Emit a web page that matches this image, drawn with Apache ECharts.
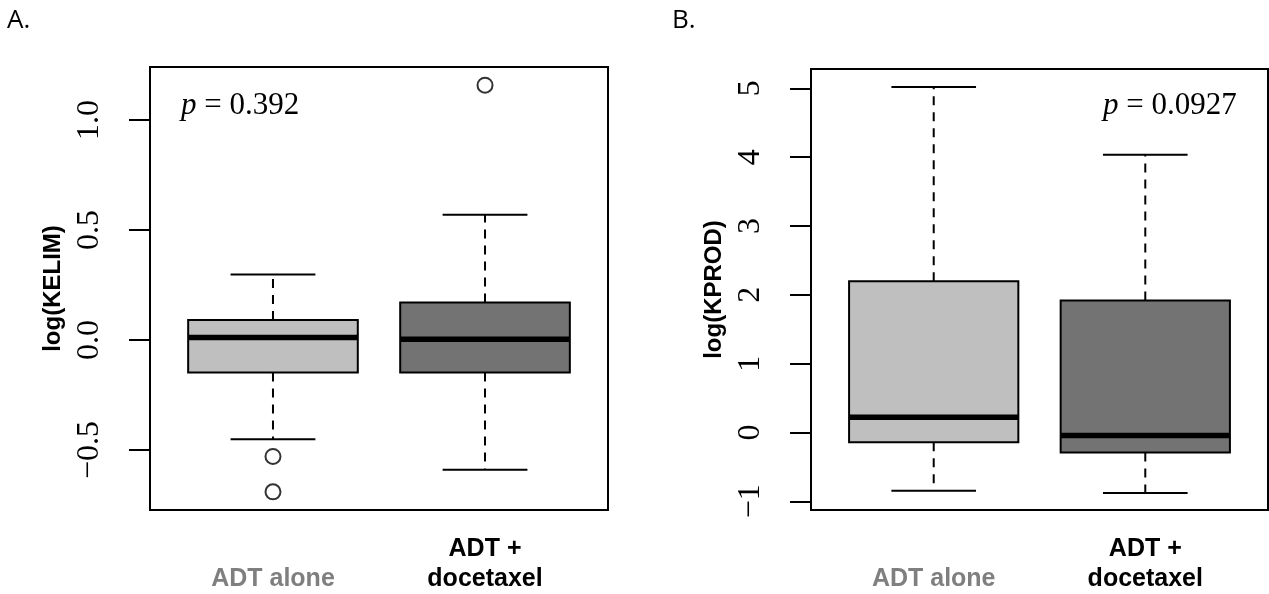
<!DOCTYPE html>
<html>
<head>
<meta charset="utf-8">
<script src="https://cdn.jsdelivr.net/npm/echarts@6/dist/echarts.min.js"></script>
<style>
html,body{margin:0;padding:0;background:#fff;}
#chart{width:1269px;height:594px;}
</style>
</head>
<body>
<div id="chart"></div>
<script>
// ---- data ----
const categories = ['ADT alone', 'ADT +\ndocetaxel'];
const boxFills = ['#bfbfbf', '#737373'];
// [lower whisker, Q1, median, Q3, upper whisker]
const kelimStats = [
  [-0.451, -0.148, 0.011, 0.091, 0.298],
  [-0.590, -0.148, 0.003, 0.170, 0.569]
];
const kelimOutliers = [[1, -0.529], [1, -0.690], [2, 1.158]];
const kprodStats = [
  [-0.847, -0.142, 0.220, 2.198, 5.020],
  [-0.879, -0.290, -0.045, 1.918, 4.036]
];
const kprodOutliers = [];
const kelimTicks = [-0.5, 0, 0.5, 1.0];
const kprodTicks = [-1, 0, 1, 2, 3, 4, 5];
const kelimTitle = 'log(KELIM)';
const kprodTitle = 'log(KPROD)';
const kelimP = '0.392';
const kprodP = '0.0927';
const panelLabels = ['A.', 'B.'];

// ---- chart ----
const chart = echarts.init(document.getElementById('chart'));
const serif = '"Liberation Serif", "DejaVu Serif", serif';
const sans = '"Liberation Sans", Arial, sans-serif';

function fmtY(digits) {
  return function (v) { return (v < 0 ? '\u2212' : '') + Math.abs(v).toFixed(digits); };
}

function renderBox(params, api) {
  const x = api.value(0), lo = api.value(1), q1 = api.value(2), med = api.value(3), q3 = api.value(4), hi = api.value(5);
  const half = 0.4, capHalf = 0.2;
  const tl = api.coord([x - half, q3]);
  const br = api.coord([x + half, q1]);
  const mL = api.coord([x - half, med]), mR = api.coord([x + half, med]);
  const pHi = api.coord([x, hi]), pLo = api.coord([x, lo]);
  const pQ3 = api.coord([x, q3]), pQ1 = api.coord([x, q1]);
  const cHL = api.coord([x - capHalf, hi]), cHR = api.coord([x + capHalf, hi]);
  const cLL = api.coord([x - capHalf, lo]), cLR = api.coord([x + capHalf, lo]);
  const ls = { stroke: '#000', lineWidth: 2 };
  const dash = { stroke: '#000', lineWidth: 2, lineDash: [9, 7] };
  return {
    type: 'group',
    children: [
      { type: 'line', shape: { x1: pQ3[0], y1: pQ3[1], x2: pHi[0], y2: pHi[1] }, style: dash },
      { type: 'line', shape: { x1: pQ1[0], y1: pQ1[1], x2: pLo[0], y2: pLo[1] }, style: dash },
      { type: 'line', shape: { x1: cHL[0], y1: cHL[1], x2: cHR[0], y2: cHR[1] }, style: ls },
      { type: 'line', shape: { x1: cLL[0], y1: cLL[1], x2: cLR[0], y2: cLR[1] }, style: ls },
      { type: 'rect', shape: { x: tl[0], y: tl[1], width: br[0] - tl[0], height: br[1] - tl[1] },
        style: { fill: boxFills[params.dataIndex], stroke: '#000', lineWidth: 2 } },
      { type: 'line', shape: { x1: mL[0], y1: mL[1], x2: mR[0], y2: mR[1] }, style: { stroke: '#000', lineWidth: 5.5 } }
    ]
  };
}

const richCat = {
  g: { color: '#7f7f7f', fontWeight: 'bold', fontSize: 25, fontFamily: sans, lineHeight: 30 },
  k: { color: '#000', fontWeight: 'bold', fontSize: 25, fontFamily: sans, lineHeight: 30 }
};
function catFormatter(v) {
  const i = Math.round(v) - 1;
  if (i === 0) return '\n{g|' + categories[0] + '}';
  return categories[1].split('\n').map(s => '{k|' + s + '}').join('\n');
}

function xAxisDef(gridIndex) {
  return {
    type: 'value', gridIndex, min: 0.42, max: 2.58,
    axisLine: { show: false }, splitLine: { show: false },
    axisTick: { show: false },
    axisLabel: { show: true, customValues: [1, 2], formatter: catFormatter, rich: richCat, margin: 24, lineHeight: 30 }
  };
}
function yAxisDef(gridIndex, min, max, ticks, digits, name) {
  return {
    type: 'value', gridIndex, min, max,
    name, nameLocation: 'middle', nameRotate: 90, nameGap: 85,
    nameTextStyle: { fontFamily: sans, fontWeight: 'bold', fontSize: 24, color: '#000' },
    axisLine: { show: false }, splitLine: { show: false },
    axisTick: { show: true, inside: false, length: 21, lineStyle: { color: '#000', width: 2 }, customValues: ticks },
    axisLabel: { show: true, rotate: 90, customValues: ticks, formatter: fmtY(digits),
      fontFamily: serif, fontSize: 32, color: '#000', margin: 44 }
  };
}

const option = {
  backgroundColor: '#fff',
  animation: false,
  grid: [
    { left: 150, top: 67, width: 458, height: 444, show: true, borderColor: '#000', borderWidth: 2, backgroundColor: 'transparent' },
    { left: 811, top: 69, width: 457, height: 443, show: true, borderColor: '#000', borderWidth: 2, backgroundColor: 'transparent' }
  ],
  xAxis: [xAxisDef(0), xAxisDef(1)],
  yAxis: [
    yAxisDef(0, -0.7724, 1.2406, kelimTicks, 1, kelimTitle),
    yAxisDef(1, -1.126, 5.281, kprodTicks, 0, kprodTitle)
  ],
  series: [
    { type: 'custom', xAxisIndex: 0, yAxisIndex: 0, renderItem: renderBox,
      data: kelimStats.map((s, i) => [i + 1].concat(s)) },
    { type: 'custom', xAxisIndex: 1, yAxisIndex: 1, renderItem: renderBox,
      data: kprodStats.map((s, i) => [i + 1].concat(s)) },
    { type: 'scatter', xAxisIndex: 0, yAxisIndex: 0, symbol: 'circle', symbolSize: 15,
      itemStyle: { color: 'rgba(0,0,0,0)', borderColor: '#000', borderWidth: 2 }, data: kelimOutliers },
    { type: 'scatter', xAxisIndex: 1, yAxisIndex: 1, symbol: 'circle', symbolSize: 15,
      itemStyle: { color: 'rgba(0,0,0,0)', borderColor: '#000', borderWidth: 2 }, data: kprodOutliers }
  ],
  graphic: [
    { type: 'text', left: 7, top: 8, style: { text: panelLabels[0], font: '26px "Open Sans", "Noto Sans", sans-serif', fill: '#000' } },
    { type: 'text', left: 672, top: 8, style: { text: panelLabels[1], font: '26px "Open Sans", "Noto Sans", sans-serif', fill: '#000' } },
    { type: 'text', x: 181, y: 106, style: { text: '{i|p} = ' + kelimP, verticalAlign: 'middle', font: '31px ' + serif, fill: '#000',
        rich: { i: { fontStyle: 'italic', fontFamily: serif, fontSize: 31 } } } },
    { type: 'text', x: 1103, y: 106, style: { text: '{i|p} = ' + kprodP, verticalAlign: 'middle', font: '31px ' + serif, fill: '#000',
        rich: { i: { fontStyle: 'italic', fontFamily: serif, fontSize: 31 } } } }
  ]
};
chart.setOption(option);
</script>
</body>
</html>
